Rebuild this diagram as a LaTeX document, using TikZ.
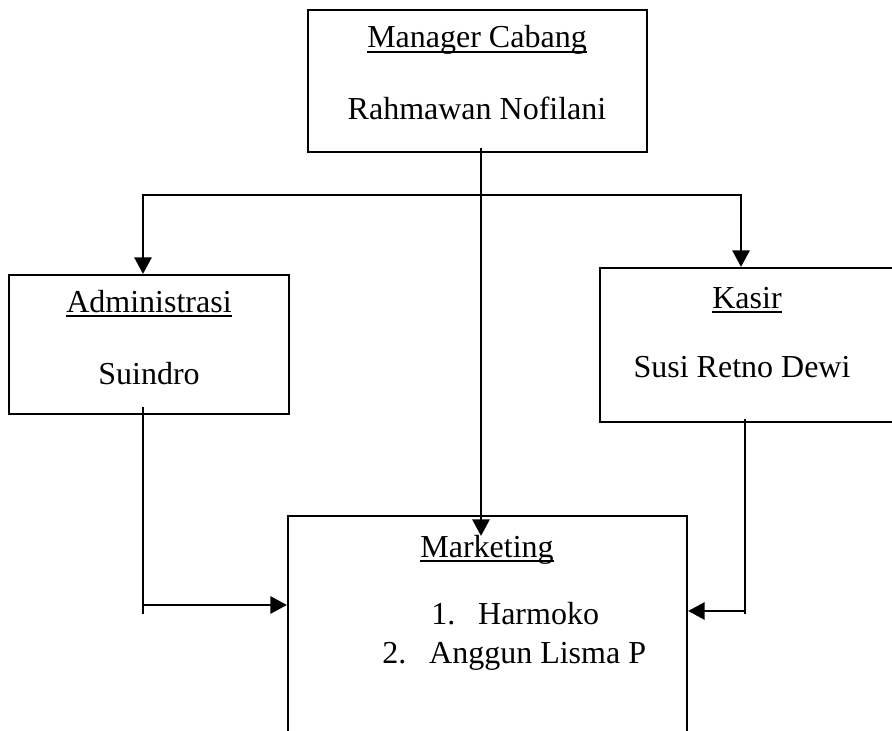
\documentclass[tikz,border=0pt]{standalone}
\usepackage{fontspec}
\setmainfont{Liberation Serif}
\usetikzlibrary{arrows.meta,fit}

\newcommand{\garis}[1]{\setbox0=\hbox{#1}\rlap{\rule[-1.9pt]{\wd0}{0.75pt}}\box0}

\begin{document}
\begin{tikzpicture}[x=0.375pt, y=-0.375pt, >={Triangle[length=6.2pt,width=6.4pt]}, line width=0.95pt,
    kotak/.style={draw, rectangle, inner sep=0pt, line width=0.8pt},
    teks/.style={anchor=base, inner sep=0pt, font=\fontsize{12}{14}\selectfont}]

    \useasboundingbox (0,0) rectangle (892,731);
    \clip (0,0) rectangle (892,731);

    % Define nodes
    \node (mgr) [kotak, fit={(308,10) (647,152)}] {};
    \node (adm) [kotak, fit={(9,275) (289,414)}] {};
    \node (kas) [kotak, fit={(600,268) (896,422)}] {};
    \node (mkt) [kotak, fit={(288,516) (687,760)}] {};

    % Texts in the boxes
    \node (mgrjab) [teks] at (477,48) {\garis{Manager Cabang}};
    \node (mgrnama) [teks] at (477,120) {Rahmawan Nofilani};
    \node (admjab) [teks] at (149,312) {\garis{Administrasi}};
    \node (admnama) [teks] at (149,384) {Suindro};
    \node (kasjab) [teks] at (747,308) {\garis{Kasir}};
    \node (kasnama) [teks] at (742,377) {Susi Retno Dewi};
    \node (mktjab) [teks] at (487,557) {\garis{Marketing}};
    \node (mkt1) [teks, anchor=base west] at (430,624) {\makebox[17.6pt][l]{1.}Harmoko};
    \node (mkt2) [teks, anchor=base west] at (381,663) {\makebox[17.6pt][l]{2.}Anggun Lisma P};

    % Branch points
    \coordinate (cabang) at (481,195);
    \coordinate (admbawah) at (143,605);
    \coordinate (kasbawah) at (745,611);

    % Lines from the manager
    \draw[->] ([shift={(3.5,-5)}]mgr.south) -- ([shift={(-6.5,21)}]mkt.north);
    \draw[->] (cabang) -| ([shift={(-6,0)}]adm.north);
    \draw[->] (cabang) -| ([shift={(-7,0)}]kas.north);

    % Lines into marketing
    \draw ([shift={(-6,-8)}]adm.south) -- ++(0,207);
    \draw[->] (admbawah) -- (mkt.west |- admbawah);
    \draw ([shift={(-3,-4)}]kas.south) -- ++(0,195);
    \draw[->] (kasbawah) -- (mkt.east |- kasbawah);

\end{tikzpicture}
\end{document}
